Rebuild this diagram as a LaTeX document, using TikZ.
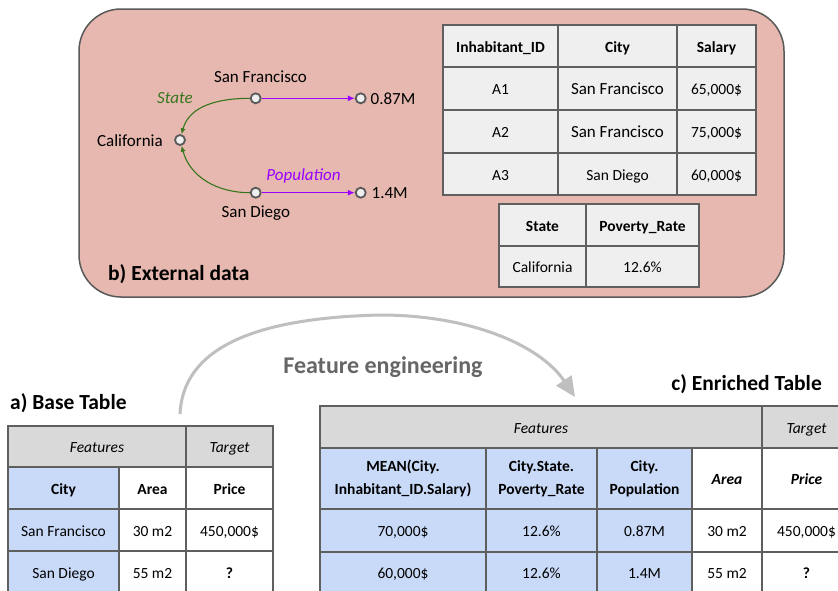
\documentclass[tikz,border=0pt]{standalone}
\usepackage{fontspec}
\setmainfont{Carlito}
\usetikzlibrary{arrows.meta}
\definecolor{extfill}{HTML}{E6B8AF}
\definecolor{boxline}{HTML}{595959}
\definecolor{cellline}{HTML}{5F5F5F}
\definecolor{lightgray}{HTML}{EFEFEF}
\definecolor{headgray}{HTML}{D9D9D9}
\definecolor{lightblue}{HTML}{C9DAF8}
\definecolor{stategreen}{HTML}{38761D}
\definecolor{poppurple}{HTML}{9900FF}
\definecolor{fegray}{HTML}{666666}
\definecolor{arcgray}{HTML}{BFBFBF}
\newcommand{\tfont}{\fontsize{15.5}{23}\selectfont}
\newcommand{\gfont}{\fontsize{17}{20}\selectfont}
\newcommand{\tcell}[7][]{\node[tcell,#1,minimum width={(#5-#3)*1pt},minimum height={(#6-#4)*1pt}] (#2) at ({(#3+#5)/2},{(#4+#6)/2}) {#7};}
\begin{document}
\begin{tikzpicture}[x=1pt,y=-1pt,
  tcell/.style={draw=cellline,line width=1.2pt,inner sep=0pt,align=center,font=\tfont,text=black,text height=12pt,text depth=0pt},
  twoline/.style={text height={},text depth={}},
  gnode/.style={circle,draw=boxline,fill=lightgray,line width=1.8pt,minimum size=10pt,inner sep=0pt},
  glabel/.style={font=\gfont,inner sep=0pt},
  purplearrow/.style={draw=poppurple,line width=1.3pt,-{Latex[length=7pt,width=6pt]}},
  greenarrow/.style={draw=stategreen,line width=1.1pt,-{Latex[length=6pt,width=5pt]}},
  title/.style={font=\fontsize{21.5}{24}\selectfont\bfseries,inner sep=0pt},
  fearrow/.style={draw=arcgray,line width=3pt,-{Triangle[length=20pt,width=18pt]}}
]
\clip (0,0) rectangle (838,590);
\fill[white] (0,0) rectangle (838,590);

% external data box
\node[draw=boxline,fill=extfill,line width=1.5pt,rounded corners=42pt,minimum width=705pt,minimum height=288pt,inner sep=0pt] (extbox) at (431.5,153) {};

% graph
\node[gnode] (sf) at (255.7,98.3) {};
\node[gnode] (v1) at (360.7,98.3) {};
\node[gnode] (ca) at (180,140) {};
\node[gnode] (sd) at (255.7,192.7) {};
\node[gnode] (v2) at (360.7,192.7) {};
\node[glabel] (sflab) at (260.5,77) {San Francisco};
\node[glabel,anchor=west] (v1lab) at (370.5,99) {0.87M};
\node[glabel,anchor=east] (calab) at (163,140.5) {California};
\node[glabel] (sdlab) at (255.8,213.5) {San Diego};
\node[glabel,anchor=west] (v2lab) at (371.5,193) {1.4M};
\node[glabel,text=stategreen,font=\gfont\itshape] (statelab) at (175,98) {State};
\node[glabel,text=poppurple,font=\gfont\itshape] (poplab) at (303.5,176) {Population};
\draw[purplearrow] (sf) -- (v1);
\draw[purplearrow] (sd) -- (v2);
\draw[greenarrow] (sf) to[out=180,in=75] (ca);
\draw[greenarrow] (sd) to[out=180,in=-75] (ca);
\node[title,anchor=west] (btitle) at (108,274) {b) External data};

% inhabitant table
\tcell[fill=lightgray,font=\tfont\bfseries]{h1}{443}{25}{558}{67}{Inhabitant\_ID}
\tcell[fill=lightgray,font=\tfont\bfseries]{h2}{558}{25}{677}{67}{City}
\tcell[fill=lightgray,font=\tfont\bfseries]{h3}{677}{25}{756}{67}{Salary}
\tcell[fill=lightgray]{r1a}{443}{67}{558}{110}{A1}
\tcell[fill=lightgray,font=\gfont]{r1b}{558}{67}{677}{110}{San Francisco}
\tcell[fill=lightgray]{r1c}{677}{67}{756}{110}{65,000\$}
\tcell[fill=lightgray]{r2a}{443}{110}{558}{153}{A2}
\tcell[fill=lightgray,font=\gfont]{r2b}{558}{110}{677}{153}{San Francisco}
\tcell[fill=lightgray]{r2c}{677}{110}{756}{153}{75,000\$}
\tcell[fill=lightgray]{r3a}{443}{153}{558}{195}{A3}
\tcell[fill=lightgray]{r3b}{558}{153}{677}{195}{San Diego}
\tcell[fill=lightgray]{r3c}{677}{153}{756}{195}{60,000\$}

% state table
\tcell[fill=lightgray,font=\tfont\bfseries]{s1}{499}{204}{586}{246}{State}
\tcell[fill=lightgray,font=\tfont\bfseries]{s2}{586}{204}{699}{246}{Poverty\_Rate}
\tcell[fill=lightgray]{s3}{499}{246}{586}{287}{California}
\tcell[fill=lightgray]{s4}{586}{246}{699}{287}{12.6\%}

% feature engineering arrow
\coordinate (festart) at (180,414);
\coordinate (fetop) at (380,315);
\coordinate (feend) at (575,397);
\draw[fearrow] (festart) .. controls (183,350) and (250,318) .. (fetop) .. controls (470,315) and (540,345) .. (feend);
\node[font=\fontsize{24}{28}\selectfont\bfseries,text=fegray,inner sep=0pt] (felab) at (383,367) {Feature engineering};

% base table
\node[title,anchor=west] (atitle) at (10,403) {a) Base Table};
\tcell[fill=headgray,font=\tfont\itshape]{bf}{8}{426}{186}{467}{Features}
\tcell[fill=headgray,font=\tfont\itshape]{bt}{186}{426}{273}{467}{Target}
\tcell[fill=lightblue,font=\tfont\bfseries]{bh1}{8}{467}{119}{509}{City}
\tcell[fill=white,font=\tfont\bfseries]{bh2}{119}{467}{186}{509}{Area}
\tcell[fill=white,font=\tfont\bfseries]{bh3}{186}{467}{273}{509}{Price}
\tcell[fill=lightblue]{b11}{8}{509}{119}{551}{San Francisco}
\tcell[fill=white]{b12}{119}{509}{186}{551}{30 m2}
\tcell[fill=white]{b13}{186}{509}{273}{551}{450,000\$}
\tcell[fill=lightblue]{b21}{8}{551}{119}{593}{San Diego}
\tcell[fill=white]{b22}{119}{551}{186}{593}{55 m2}
\tcell[fill=white,font=\tfont\bfseries]{b23}{186}{551}{273}{593}{?}

% enriched table
\node[title,anchor=east] (ctitle) at (822,384) {c) Enriched Table};
\tcell[fill=headgray,font=\tfont\itshape]{ef}{320}{406}{762}{448}{Features}
\tcell[fill=headgray,font=\tfont\itshape]{et}{762}{406}{851}{448}{Target}
\tcell[fill=lightblue,font=\tfont\bfseries,twoline]{eh1}{320}{448}{486}{509}{MEAN(City.\\Inhabitant\_ID.Salary)}
\tcell[fill=lightblue,font=\tfont\bfseries,twoline]{eh2}{486}{448}{597}{509}{City.State.\\Poverty\_Rate}
\tcell[fill=lightblue,font=\tfont\bfseries,twoline]{eh3}{597}{448}{692}{509}{City.\\Population}
\tcell[fill=white,font=\tfont\bfseries\itshape]{eh4}{692}{448}{762}{509}{Area}
\tcell[fill=white,font=\tfont\bfseries\itshape]{eh5}{762}{448}{851}{509}{Price}
\tcell[fill=lightblue]{e11}{320}{509}{486}{552}{70,000\$}
\tcell[fill=lightblue]{e12}{486}{509}{597}{552}{12.6\%}
\tcell[fill=lightblue]{e13}{597}{509}{692}{552}{0.87M}
\tcell[fill=white]{e14}{692}{509}{762}{552}{30 m2}
\tcell[fill=white]{e15}{762}{509}{851}{552}{450,000\$}
\tcell[fill=lightblue]{e21}{320}{552}{486}{593}{60,000\$}
\tcell[fill=lightblue]{e22}{486}{552}{597}{593}{12.6\%}
\tcell[fill=lightblue]{e23}{597}{552}{692}{593}{1.4M}
\tcell[fill=white]{e24}{692}{552}{762}{593}{55 m2}
\tcell[fill=white,font=\tfont\bfseries]{e25}{762}{552}{851}{593}{?}
\end{tikzpicture}
\end{document}
